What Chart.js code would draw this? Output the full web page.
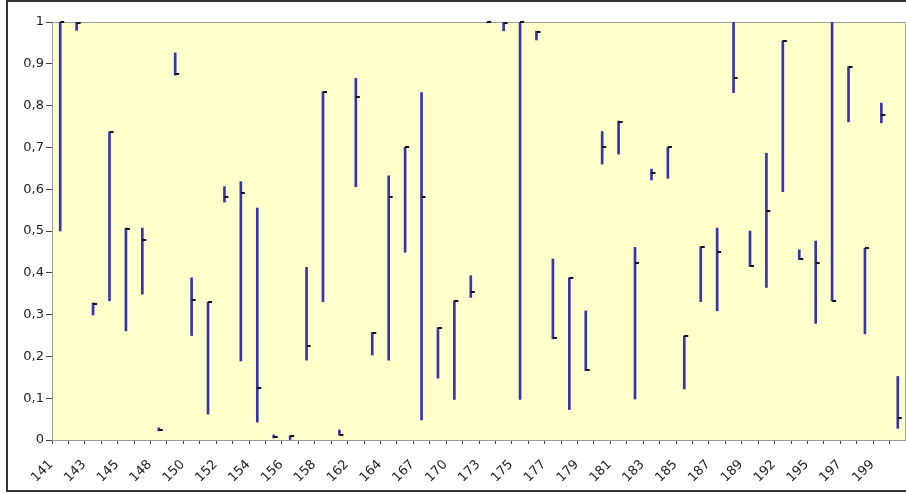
<!DOCTYPE html>
<html>
<head>
<meta charset="utf-8">
<script src="https://cdn.jsdelivr.net/npm/chart.js@4.4.1/dist/chart.umd.min.js"></script>
<style>
  html, body { margin: 0; padding: 0; background: #fff; }
  canvas { display: block; }
</style>
</head>
<body>
<canvas id="hlcChart" width="906" height="493"></canvas>
<script>
// categories (only every other one gets a visible label)
const categories = ['141','142','143','144','145','146','148','149','150','151','152','153','154','155','156','157','158','160','162','163','164','165','167','168','170','171','173','174','175','176','177','178','179','180','181','182','183','184','185','186','187','188','189','190','192','193','195','196','197','198','199','200'];

// high / low / close values
const highs = [1.0, 1.0, 0.328, 0.737, 0.507, 0.507, 0.029, 0.926, 0.388, 0.33, 0.606, 0.618, 0.555, 0.012, 0.01, 0.413, 0.833, 0.024, 0.865, 0.257, 0.632, 0.70, 0.831, 0.269, 0.333, 0.393, 1.0, 1.0, 1.0, 0.978, 0.433, 0.388, 0.309, 0.738, 0.763, 0.461, 0.648, 0.70, 0.249, 0.462, 0.507, 1.0, 0.50, 0.686, 0.955, 0.455, 0.476, 1.0, 0.893, 0.459, 0.806, 0.152];
const lows = [0.5, 0.98, 0.299, 0.333, 0.261, 0.349, 0.022, 0.873, 0.25, 0.062, 0.569, 0.189, 0.043, 0.005, 0.0, 0.191, 0.331, 0.012, 0.606, 0.203, 0.191, 0.449, 0.048, 0.148, 0.097, 0.341, 0.998, 0.979, 0.097, 0.957, 0.242, 0.073, 0.166, 0.66, 0.684, 0.098, 0.622, 0.626, 0.122, 0.331, 0.309, 0.831, 0.415, 0.365, 0.594, 0.432, 0.279, 0.333, 0.761, 0.254, 0.759, 0.028];
const closes = [1.0, 0.998, 0.326, 0.737, 0.505, 0.478, 0.024, 0.875, 0.335, 0.33, 0.582, 0.592, 0.125, 0.008, 0.009, 0.225, 0.833, 0.013, 0.821, 0.255, 0.581, 0.70, 0.582, 0.268, 0.333, 0.353, 1.0, 0.998, 1.0, 0.976, 0.243, 0.388, 0.167, 0.70, 0.761, 0.423, 0.638, 0.70, 0.248, 0.462, 0.449, 0.865, 0.416, 0.548, 0.955, 0.434, 0.424, 0.333, 0.893, 0.459, 0.778, 0.053];

const yTicks = [0, 0.1, 0.2, 0.3, 0.4, 0.5, 0.6, 0.7, 0.8, 0.9, 1];

// plot background, plot border and outer frame
const frame = {
    id: 'frame',
    beforeDatasetsDraw(chart) {
        const { ctx, chartArea: a } = chart;
        ctx.save();
        ctx.fillStyle = '#FFFFCC';
        ctx.fillRect(a.left, a.top, a.right - a.left, a.bottom - a.top);
        ctx.strokeStyle = '#9a9a9a';
        ctx.lineWidth = 1;
        ctx.strokeRect(a.left + 0.5, a.top + 0.5, a.right - a.left - 1, a.bottom - a.top);
        ctx.restore();
    },
    afterDraw(chart) {
        const ctx = chart.ctx;
        ctx.save();
        ctx.strokeStyle = '#333';
        ctx.lineWidth = 2;
        ctx.strokeRect(7, 1, 920, 490);
        ctx.restore();
    }
};

// close marks: short dash to the right of each high-low line
const closeTicks = {
    id: 'closeTicks',
    afterDatasetsDraw(chart) {
        const { ctx, scales } = chart;
        ctx.save();
        ctx.strokeStyle = '#111';
        ctx.lineWidth = 2;
        closes.forEach((c, i) => {
            if (c == null) return;
            const x = scales.x.getPixelForValue(i);
            const y = Math.round(scales.y.getPixelForValue(c));
            ctx.beginPath();
            ctx.moveTo(x, y);
            ctx.lineTo(x + 4, y);
            ctx.stroke();
        });
        ctx.restore();
    }
};

new Chart(document.getElementById('hlcChart'), {
    type: 'bar',
    data: {
        labels: categories,
        datasets: [{
            label: 'High-Low',
            data: highs.map((h, i) => [lows[i], h]),
            backgroundColor: '#3434b0',
            barThickness: 2,
            borderSkipped: false
        }]
    },
    options: {
        responsive: false,
        animation: false,
        layout: { padding: { left: 0, top: 22, right: 0, bottom: 0 } },
        plugins: {
            legend: { display: false },
            tooltip: { enabled: false }
        },
        scales: {
            x: {
                offset: true,
                afterFit: s => { s.height = 53; s.paddingLeft = 0; s.paddingRight = 0; },
                grid: {
                    offset: true,
                    drawOnChartArea: false,
                    drawTicks: true,
                    tickLength: 4,
                    color: '#444'
                },
                border: { color: '#555', width: 1 },
                ticks: {
                    autoSkip: false,
                    maxRotation: 45,
                    minRotation: 45,
                    labelOffset: -9,
                    padding: 13,
                    color: '#222',
                    font: { family: 'DejaVu Sans', size: 13 },
                    callback: (v, i) => i % 2 === 0 ? categories[i] : ''
                }
            },
            y: {
                min: 0,
                max: 1,
                afterFit: s => { s.width = 52; },
                afterBuildTicks: s => { s.ticks = yTicks.map(v => ({ value: v })); },
                grid: {
                    drawOnChartArea: false,
                    drawTicks: true,
                    tickLength: 6,
                    color: '#444'
                },
                border: { color: '#555', width: 1 },
                ticks: {
                    padding: 2,
                    color: '#222',
                    font: { family: 'DejaVu Sans', size: 13 },
                    callback: v => (v === 0 || v === 1) ? String(v) : v.toFixed(1).replace('.', ',')
                }
            }
        }
    },
    plugins: [frame, closeTicks]
});
</script>
</body>
</html>
